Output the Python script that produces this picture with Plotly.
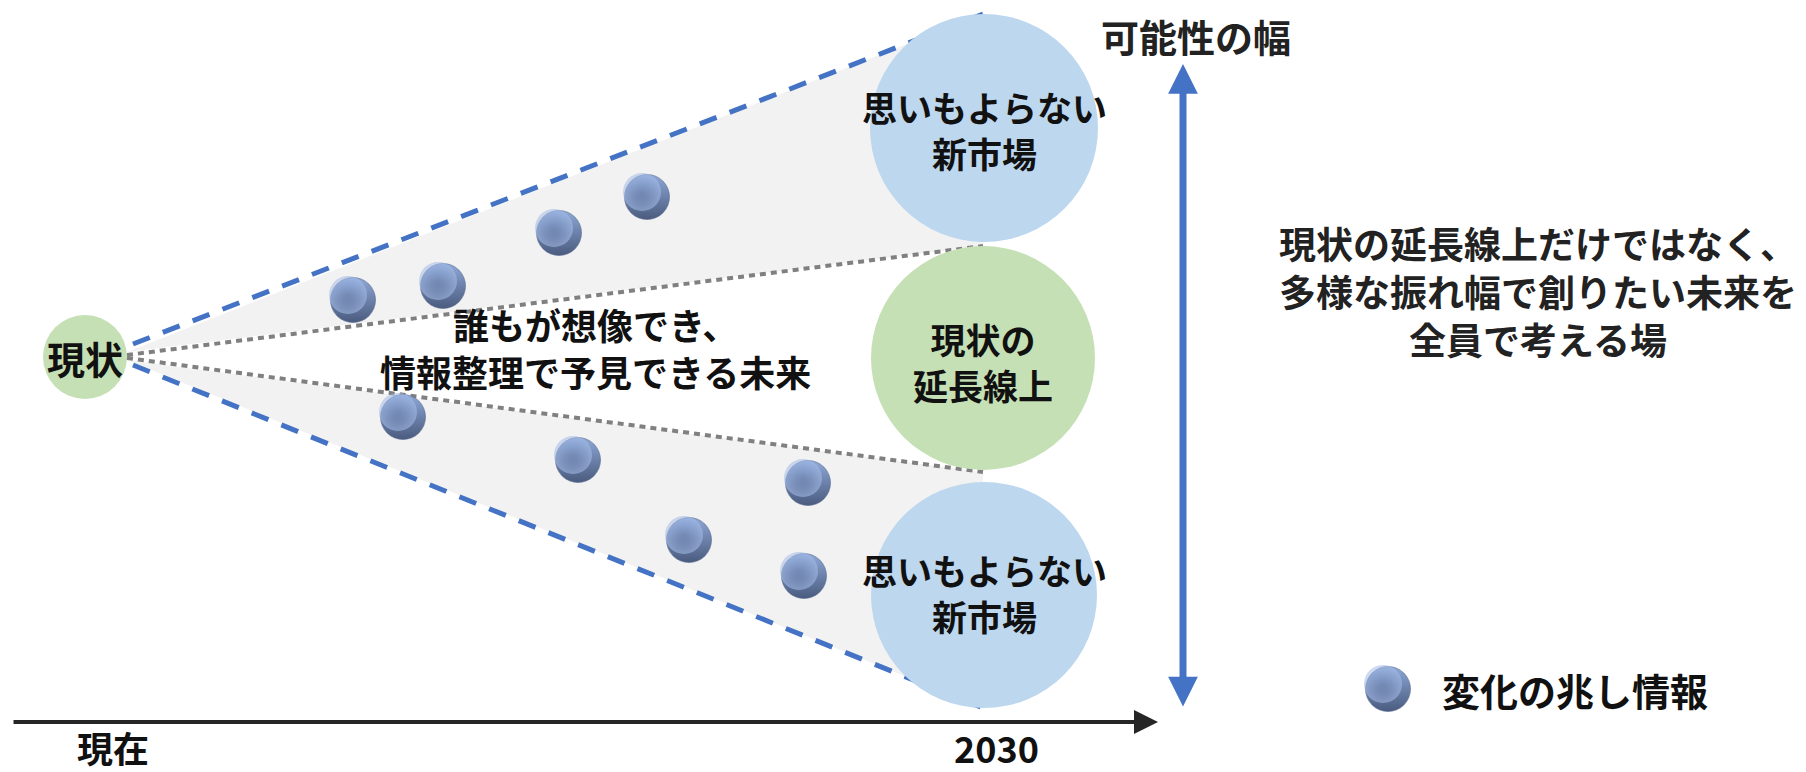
import plotly.graph_objects as go

W, H = 1806, 772
FONT = "Noto Sans CJK JP"

# ---- data (pixel-space coordinates of the diagram) ----
apex = (127, 356)
dash_top_end = (983, 14)
dash_bot_end = (983, 708)
dot_top_end = (983, 246)
dot_bot_end = (983, 472)

signal_x = [353, 443, 559, 647, 403, 578, 808, 689, 804]
signal_y = [300, 286, 233, 197, 417, 460, 483, 540, 576]

circle_labels = ["思いもよらない<br>新市場", "現状の<br>延長線上", "思いもよらない<br>新市場"]
circle_text_y = [129, 361, 592]
circle_cx = [984, 983, 984]
circle_cy = [128, 358, 595]
circle_r = [114, 112, 113]
circle_colors = ["#bdd7ee", "#c5e0b4", "#bdd7ee"]

now_label = "現状"
now_cx, now_cy, now_r = 85, 357, 42

axis_labels = ["現在", "2030"]
axis_label_x = [113, 996]
axis_label_y = 747
axis_y = 722

legend_x, legend_y = [1388], [689]

center_text = "誰もが想像でき、<br>情報整理で予見できる未来"
center_xy = (595, 347)
right_text = "現状の延長線上だけではなく、<br>多様な振れ幅で創りたい未来を<br>全員で考える場"
right_xy = (1538, 291)
width_label = "可能性の幅"
legend_label = "変化の兆し情報"

fig = go.Figure()

# gray fans
fig.add_trace(go.Scatter(
    x=[apex[0], dash_top_end[0], dot_top_end[0], apex[0]],
    y=[apex[1] - 4, dash_top_end[1], dot_top_end[1], apex[1] - 4],
    fill="toself", fillcolor="#f2f2f2", line=dict(width=0), mode="lines",
    hoverinfo="skip", showlegend=False))
fig.add_trace(go.Scatter(
    x=[apex[0], dot_bot_end[0], dash_bot_end[0], apex[0]],
    y=[apex[1] + 4, dot_bot_end[1], dash_bot_end[1], apex[1] + 4],
    fill="toself", fillcolor="#f2f2f2", line=dict(width=0), mode="lines",
    hoverinfo="skip", showlegend=False))

# dashed outer lines
for end, dy in [(dash_top_end, -12), (dash_bot_end, 9)]:
    fig.add_trace(go.Scatter(
        x=[apex[0] + 6, end[0]], y=[apex[1] + dy, end[1]], mode="lines",
        line=dict(color="#4472c4", width=5, dash="18px,14px"),
        hoverinfo="skip", showlegend=False))

# dotted inner lines
for end, dy in [(dot_top_end, -1), (dot_bot_end, 2)]:
    fig.add_trace(go.Scatter(
        x=[apex[0], end[0]], y=[apex[1] + dy, end[1]], mode="lines",
        line=dict(color="#808080", width=4, dash="6px,5px"),
        hoverinfo="skip", showlegend=False))


def add_spheres(xs, ys):
    # base with vertical shading (light top, dark bottom)
    fig.add_trace(go.Scatter(
        x=xs, y=ys, mode="markers",
        marker=dict(size=45, color="#8ea8d7", line=dict(width=0.6, color="#55688e"),
                    gradient=dict(type="vertical", color="#4a5b7e")),
        hoverinfo="skip", showlegend=False))
    # soft light toward the upper-left
    fig.add_trace(go.Scatter(
        x=[v - 5 for v in xs], y=[v - 5 for v in ys], mode="markers",
        marker=dict(size=38, color="rgba(166,189,232,0.6)", line=dict(width=0),
                    gradient=dict(type="radial", color="rgba(142,168,215,0)")),
        hoverinfo="skip", showlegend=False))


add_spheres(signal_x, signal_y)
add_spheres(legend_x, legend_y)

shapes = []
for cx, cy, r, c in zip(circle_cx, circle_cy, circle_r, circle_colors):
    shapes.append(dict(type="circle", xref="x", yref="y",
                       x0=cx - r, x1=cx + r, y0=cy - r, y1=cy + r,
                       fillcolor=c, line=dict(width=0), layer="above"))
shapes.append(dict(type="circle", xref="x", yref="y",
                   x0=now_cx - now_r, x1=now_cx + now_r,
                   y0=now_cy - now_r, y1=now_cy + now_r,
                   fillcolor="#c5e0b4", line=dict(width=0), layer="below"))


def txt(x, y, s, size, color="#111111", **kw):
    return dict(x=x, y=y, text=s, showarrow=False, xref="x", yref="y",
                font=dict(family=FONT, size=size, color=color, weight="bold"), **kw)


annotations = []
for cx, y, lab in zip(circle_cx, circle_text_y, circle_labels):
    annotations.append(txt(cx, y, lab, 35))
annotations.append(txt(now_cx, now_cy, now_label, 38))
annotations.append(txt(center_xy[0], center_xy[1], center_text, 36))
annotations.append(txt(right_xy[0], right_xy[1], right_text, 37, "#222222"))
annotations.append(txt(1196, 35, width_label, 38, "#222222"))
annotations.append(txt(1440, 689, legend_label, 38, xanchor="left"))
for lx, lab in zip(axis_label_x, axis_labels):
    annotations.append(txt(lx, axis_label_y, lab, 36))

# horizontal time axis arrow
annotations.append(dict(x=1158, y=axis_y, ax=12, ay=axis_y, xref="x", yref="y",
                        axref="x", ayref="y", text="", showarrow=True,
                        arrowhead=2, arrowsize=1.2, arrowwidth=4, arrowcolor="#262626"))
# vertical double arrow
annotations.append(dict(x=1183, y=64, ax=1183, ay=708, xref="x", yref="y",
                        axref="x", ayref="y", text="", showarrow=True,
                        arrowhead=2, startarrowhead=2, arrowside="end+start",
                        arrowsize=0.85, startarrowsize=0.85, arrowwidth=7, arrowcolor="#4472c4"))

fig.update_layout(
    width=W, height=H, margin=dict(l=0, r=0, t=0, b=0),
    paper_bgcolor="white", plot_bgcolor="white",
    xaxis=dict(range=[0, W], visible=False, fixedrange=True),
    yaxis=dict(range=[H, 0], visible=False, fixedrange=True),
    shapes=shapes, annotations=annotations,
)

fig.write_html("out.html", config={"displayModeBar": False},
               post_script="document.body.style.margin='0';")
